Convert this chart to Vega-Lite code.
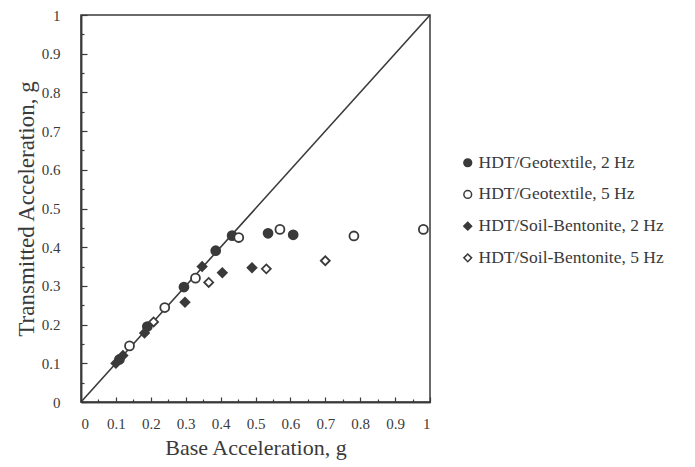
{
  "$schema": "https://vega.github.io/schema/vega-lite/v6.json",
  "autosize": "none",
  "width": 349,
  "height": 387,
  "padding": {"left": 81, "top": 15, "right": 265, "bottom": 65},
  "background": "#ffffff",
  "config": {
    "view": {"stroke": "#3a3a3a", "strokeWidth": 1.5},
    "font": "Liberation Serif",
    "axis": {
      "grid": false,
      "domainColor": "#3a3a3a",
      "domainWidth": 1.5,
      "tickColor": "#3a3a3a",
      "labelColor": "#3a3a3a",
      "titleColor": "#3a3a3a",
      "labelFont": "Liberation Serif",
      "titleFont": "Liberation Serif",
      "titleFontWeight": "normal"
    },
    "legend": {
      "labelFont": "Liberation Serif",
      "labelColor": "#3a3a3a"
    }
  },
  "resolve": {"axis": {"x": "independent", "y": "independent"}},
  "layer": [
    {
      "data": {"values": [{"base": 0, "transmitted": 0}, {"base": 1, "transmitted": 1}]},
      "mark": {"type": "line", "color": "#3a3a3a", "strokeWidth": 1.6},
      "encoding": {
        "x": {
          "field": "base", "type": "quantitative",
          "scale": {"domain": [0, 1], "nice": false},
          "axis": {
            "orient": "bottom", "title": null, "labels": false,
            "values": [0.05, 0.15, 0.25, 0.35, 0.45, 0.55, 0.65, 0.75, 0.85, 0.95],
            "tickSize": -3, "tickWidth": 1.2
          }
        },
        "y": {
          "field": "transmitted", "type": "quantitative",
          "scale": {"domain": [0, 1], "nice": false},
          "axis": {
            "orient": "left", "title": null, "labels": false,
            "values": [0.05, 0.15, 0.25, 0.35, 0.45, 0.55, 0.65, 0.75, 0.85, 0.95],
            "tickSize": -3, "tickWidth": 1.2
          }
        }
      }
    },
    {
      "data": {
        "values": [
          {"series": "HDT/Geotextile, 2 Hz", "base": 0.11, "transmitted": 0.11},
          {"series": "HDT/Geotextile, 2 Hz", "base": 0.19, "transmitted": 0.195},
          {"series": "HDT/Geotextile, 2 Hz", "base": 0.295, "transmitted": 0.297},
          {"series": "HDT/Geotextile, 2 Hz", "base": 0.386, "transmitted": 0.391},
          {"series": "HDT/Geotextile, 2 Hz", "base": 0.433, "transmitted": 0.43},
          {"series": "HDT/Geotextile, 2 Hz", "base": 0.536, "transmitted": 0.436},
          {"series": "HDT/Geotextile, 2 Hz", "base": 0.608, "transmitted": 0.432},
          {"series": "HDT/Geotextile, 5 Hz", "base": 0.139, "transmitted": 0.145},
          {"series": "HDT/Geotextile, 5 Hz", "base": 0.24, "transmitted": 0.244},
          {"series": "HDT/Geotextile, 5 Hz", "base": 0.328, "transmitted": 0.32},
          {"series": "HDT/Geotextile, 5 Hz", "base": 0.452, "transmitted": 0.425},
          {"series": "HDT/Geotextile, 5 Hz", "base": 0.57, "transmitted": 0.446},
          {"series": "HDT/Geotextile, 5 Hz", "base": 0.782, "transmitted": 0.429},
          {"series": "HDT/Geotextile, 5 Hz", "base": 0.981, "transmitted": 0.446},
          {"series": "HDT/Soil-Bentonite, 2 Hz", "base": 0.1, "transmitted": 0.1},
          {"series": "HDT/Soil-Bentonite, 2 Hz", "base": 0.12, "transmitted": 0.12},
          {"series": "HDT/Soil-Bentonite, 2 Hz", "base": 0.182, "transmitted": 0.178},
          {"series": "HDT/Soil-Bentonite, 2 Hz", "base": 0.298, "transmitted": 0.258},
          {"series": "HDT/Soil-Bentonite, 2 Hz", "base": 0.347, "transmitted": 0.35},
          {"series": "HDT/Soil-Bentonite, 2 Hz", "base": 0.405, "transmitted": 0.334},
          {"series": "HDT/Soil-Bentonite, 2 Hz", "base": 0.49, "transmitted": 0.347},
          {"series": "HDT/Soil-Bentonite, 5 Hz", "base": 0.208, "transmitted": 0.207},
          {"series": "HDT/Soil-Bentonite, 5 Hz", "base": 0.366, "transmitted": 0.309},
          {"series": "HDT/Soil-Bentonite, 5 Hz", "base": 0.531, "transmitted": 0.344},
          {"series": "HDT/Soil-Bentonite, 5 Hz", "base": 0.7, "transmitted": 0.365}
        ]
      },
      "mark": {"type": "point", "filled": false, "stroke": "#3a3a3a", "strokeWidth": 1.8, "opacity": 1},
      "encoding": {
        "x": {
          "field": "base", "type": "quantitative",
          "scale": {"domain": [0, 1], "nice": false},
          "axis": {
            "orient": "bottom", "title": "Base Acceleration, g",
            "values": [0, 0.1, 0.2, 0.3, 0.4, 0.5, 0.6, 0.7, 0.8, 0.9, 1],
            "format": "~g", "tickSize": -5, "tickWidth": 1.2,
            "labelFont": "Liberation Serif", "labelFontSize": 15, "labelPadding": 19,
            "titleFont": "Liberation Serif", "titleFontSize": 22, "titlePadding": 6
          }
        },
        "y": {
          "field": "transmitted", "type": "quantitative",
          "scale": {"domain": [0, 1], "nice": false},
          "axis": {
            "orient": "left", "title": "Transmitted Acceleration, g",
            "values": [0, 0.1, 0.2, 0.3, 0.4, 0.5, 0.6, 0.7, 0.8, 0.9, 1],
            "format": "~g", "tickSize": -6, "tickWidth": 1.2,
            "labelFont": "Liberation Serif", "labelFontSize": 15, "labelPadding": 27,
            "titleFont": "Liberation Serif", "titleFontSize": 23, "titlePadding": 3
          }
        },
        "shape": {
          "field": "series", "type": "nominal",
          "scale": {
            "domain": ["HDT/Geotextile, 2 Hz", "HDT/Geotextile, 5 Hz", "HDT/Soil-Bentonite, 2 Hz", "HDT/Soil-Bentonite, 5 Hz"],
            "range": ["circle", "circle", "diamond", "diamond"]
          },
          "legend": {
            "title": null, "orient": "none", "legendX": 378, "legendY": 139,
            "labelFontSize": 17.5, "labelLimit": 300, "rowPadding": 12.7, "symbolSize": 60,
            "labelOffset": 2,
            "encode": {"symbols": {"update": {"stroke": {"value": "#3a3a3a"}, "strokeWidth": {"value": 1.8}}}}
          }
        },
        "fill": {
          "field": "series", "type": "nominal",
          "scale": {
            "domain": ["HDT/Geotextile, 2 Hz", "HDT/Geotextile, 5 Hz", "HDT/Soil-Bentonite, 2 Hz", "HDT/Soil-Bentonite, 5 Hz"],
            "range": ["#3a3a3a", "#ffffff", "#3a3a3a", "#ffffff"]
          },
          "legend": {
            "title": null, "orient": "none", "legendX": 378, "legendY": 139,
            "labelFontSize": 17.5, "labelLimit": 300, "rowPadding": 12.7, "symbolSize": 60,
            "labelOffset": 2,
            "encode": {"symbols": {"update": {"stroke": {"value": "#3a3a3a"}, "strokeWidth": {"value": 1.8}}}}
          }
        },
        "size": {"value": 80}
      }
    }
  ]
}
